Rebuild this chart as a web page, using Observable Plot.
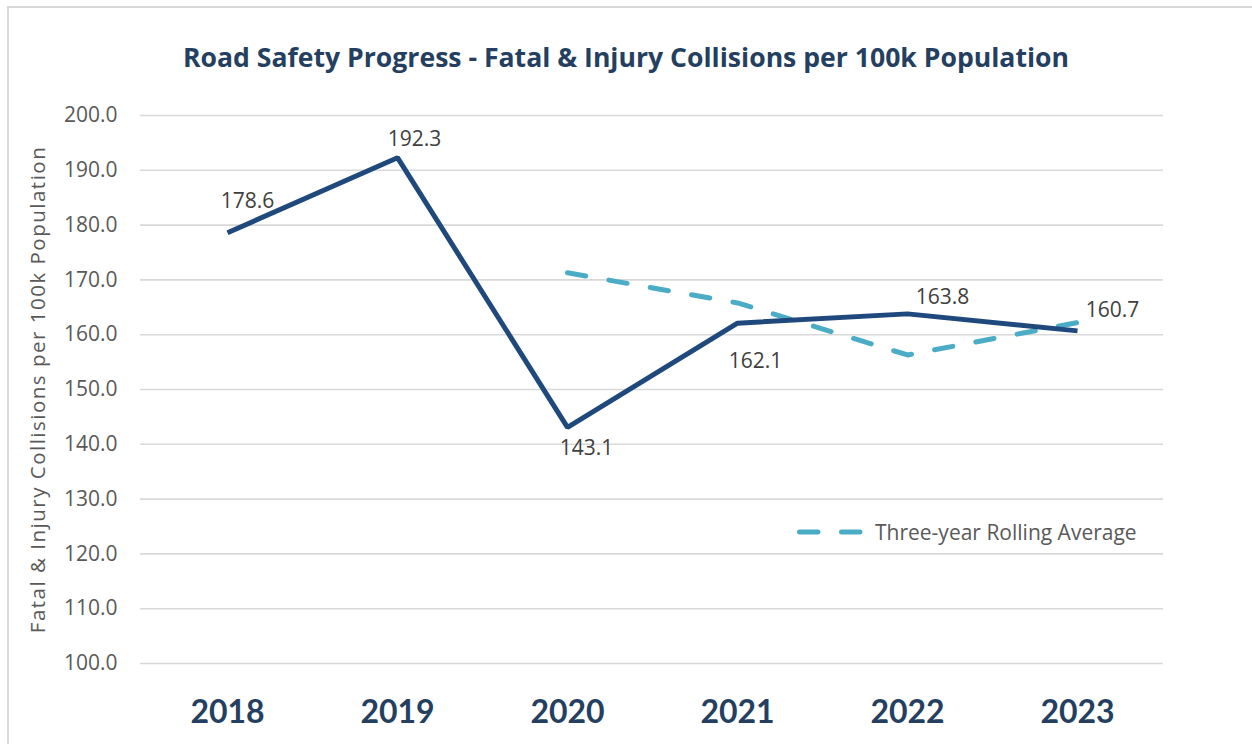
<!DOCTYPE html>
<html>
<head>
<meta charset="utf-8">
<script src="https://cdn.jsdelivr.net/npm/d3@7"></script>
<script src="https://cdn.jsdelivr.net/npm/@observablehq/plot@0.6"></script>
<style>
  html, body { margin: 0; padding: 0; background: #fff; overflow: hidden; width: 1252px; height: 744px; }
  #frame { position: absolute; left: 7px; top: 6px; width: 1300px; height: 800px; border: 2px solid #d9d9d9; box-sizing: border-box; }
  #title { position: absolute; left: 0; top: 0; width: 1252px; height: 90px; line-height: 114px; text-align: center;
           font-family: "Open Sans", sans-serif; font-weight: bold; font-size: 26.6px; color: #243f60; }
  #chart { position: absolute; left: 0; top: 90px; }
  #legend { position: absolute; left: 797px; top: 518px; font-family: "Open Sans", sans-serif; font-size: 21px; color: #595959; display: flex; align-items: center; white-space: nowrap; }
</style>
</head>
<body>
<div id="frame"></div>
<div id="title">Road Safety Progress - Fatal &amp; Injury Collisions per 100k Population</div>
<div id="chart"></div>
<div id="legend">
  <svg width="70" height="26" style="margin-right:8px"><line x1="2.5" y1="13" x2="67" y2="13" stroke="#4bacc6" stroke-width="5" stroke-linecap="round" stroke-dasharray="18.5,23.5"/></svg>
  <span>Three-year Rolling Average</span>
</div>
<script>
const years = ["2018", "2019", "2020", "2021", "2022", "2023"];
const collisionRate = [178.6, 192.3, 143.1, 162.1, 163.8, 160.7];
const rollingYears = ["2020", "2021", "2022", "2023"];
const rollingAverage = [171.3, 165.8, 156.3, 162.2];
const yTicks = [100, 110, 120, 130, 140, 150, 160, 170, 180, 190, 200];

// label offsets (styling only), mimicking the original label placement
const labelDx = [20, 17, 19, 18, 35, 35];
const labelDy = [-32, -18, 21, 38, -17, -21];

const mainData = years.map((y, i) => ({year: y, value: collisionRate[i], dx: labelDx[i], dy: labelDy[i]}));
const rollData = rollingYears.map((y, i) => ({year: y, value: rollingAverage[i]}));

const labelMarks = mainData.map(d => Plot.text([d], {
  x: "year", y: "value", text: d => d.value.toFixed(1),
  dx: d.dx, dy: d.dy, fill: "#404040", fontSize: 21, textAnchor: "middle"
}));

const chart = Plot.plot({
  width: 1252,
  height: 654,
  marginLeft: 140,
  marginRight: 89,
  marginTop: 25,
  marginBottom: 81,
  style: {fontFamily: "'Open Sans', sans-serif", background: "transparent", overflow: "visible"},
  x: {type: "point", domain: years, padding: 0.5, label: null},
  y: {domain: [100, 200], label: null},
  marks: [
    Plot.ruleY(yTicks, {stroke: "#d9d9d9", strokeWidth: 1.6}),
    Plot.axisY({ticks: yTicks, tickFormat: d3.format(".1f"), tickSize: 0, tickPadding: 23, fontSize: 21, color: "#595959",
      label: "Fatal & Injury Collisions per 100k Population", labelAnchor: "center", labelArrow: "none", labelOffset: 110}),
    Plot.axisX({tickSize: 0, tickPadding: 37, fontSize: 32, fontWeight: "bold", fontFamily: "Lato, sans-serif", color: "#243f60", label: null}),
    Plot.line(rollData, {x: "year", y: "value", stroke: "#4bacc6", strokeWidth: 5, strokeDasharray: "18.5,23.5", strokeLinecap: "round"}),
    Plot.line(mainData, {x: "year", y: "value", stroke: "#1f497d", strokeWidth: 5, strokeLinejoin: "miter", strokeLinecap: "butt"}),
    ...labelMarks
  ]
});
d3.select(chart).selectAll('g[aria-label="y-axis label"] text').style("letter-spacing", "1.5px").style("font-size", "20.5px");
document.getElementById("chart").appendChild(chart);
</script>
</body>
</html>
